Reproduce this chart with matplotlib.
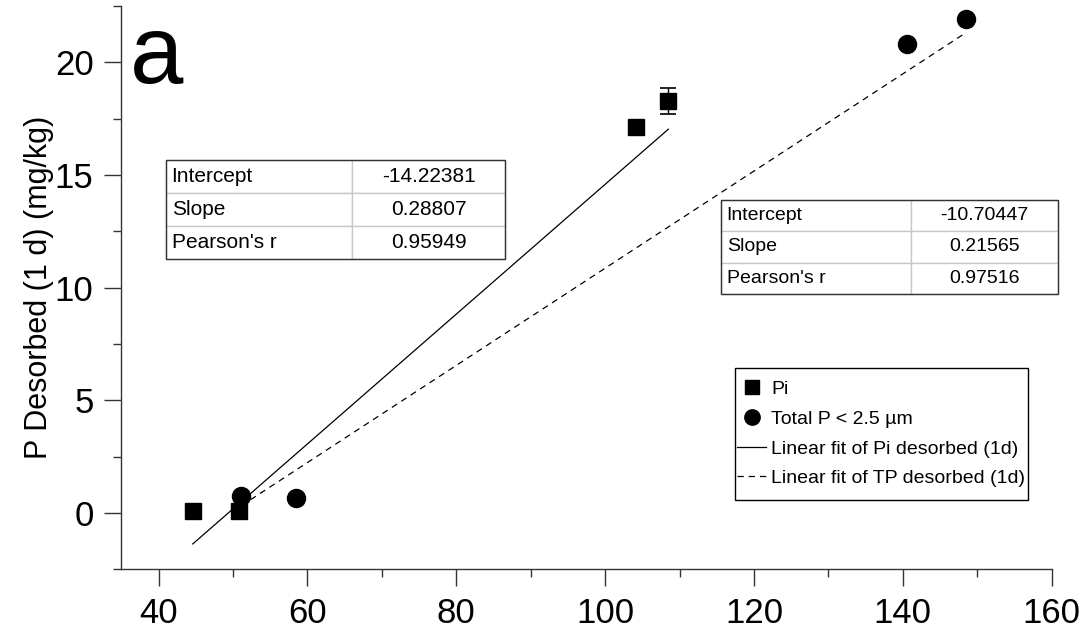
import numpy as np
import matplotlib
matplotlib.use("Agg")
import matplotlib.pyplot as plt
from matplotlib.patches import Rectangle
from matplotlib.ticker import MultipleLocator

plt.rcParams['font.family'] = ['Liberation Sans', 'DejaVu Sans']

# Pi desorbed after 1 d
pi_x = [44.6, 50.8, 104.1, 108.5]
pi_y = [0.07, 0.07, 17.11, 18.29]
pi_err = [0.0, 0.0, 0.0, 0.58]

# Total P < 2.5 um desorbed after 1 d
tp_x = [51.1, 58.5, 140.6, 148.55]
tp_y = [0.74, 0.68, 20.81, 21.9]

# linear fit results (intercept, slope, Pearson's r)
stat_names = ["Intercept", "Slope", "Pearson's r"]
pi_fit = [-14.22381, 0.28807, 0.95949]
tp_fit = [-10.70447, 0.21565, 0.97516]

fig = plt.figure(figsize=(10.87, 6.35), dpi=100)
ax = fig.add_axes([0.1116, 0.1035, 0.8559, 0.8871])

# data points
ax.plot(pi_x, pi_y, 's', color='black', ms=12, label='Pi', zorder=3)
ax.plot(tp_x, tp_y, 'o', color='black', ms=13, label='Total P < 2.5 µm', zorder=3)
err = np.array(pi_err)
m = err > 0
ax.errorbar(np.array(pi_x)[m], np.array(pi_y)[m], yerr=err[m], fmt='none',
            ecolor='black', elinewidth=1, capsize=6, capthick=1.2, zorder=2)

# fit lines over the range of each series
xf = np.array([min(pi_x), max(pi_x)])
ax.plot(xf, pi_fit[0] + pi_fit[1] * xf, '-', color='black', lw=0.9,
        label='Linear fit of Pi desorbed (1d)')
xf = np.array([min(tp_x), max(tp_x)])
ax.plot(xf, tp_fit[0] + tp_fit[1] * xf, '--', color='black', lw=0.9,
        dashes=(5, 4), label='Linear fit of TP desorbed (1d)')

ax.set_xlim(35, 160)
ax.set_ylim(-2.5, 22.5)
ax.xaxis.set_major_locator(MultipleLocator(20))
ax.xaxis.set_minor_locator(MultipleLocator(10))
ax.yaxis.set_major_locator(MultipleLocator(5))
ax.yaxis.set_minor_locator(MultipleLocator(2.5))
ax.tick_params(which='major', direction='out', length=12, width=1, color='#333333',
               labelsize=25)
ax.tick_params(which='minor', direction='out', length=6, width=1, color='#333333')
ax.tick_params(axis='x', pad=8)
ax.tick_params(axis='y', pad=8)
for s in ['top', 'right']:
    ax.spines[s].set_visible(False)
for s in ['left', 'bottom']:
    ax.spines[s].set_color('#333333')
    ax.spines[s].set_linewidth(1)

ax.set_ylabel('P Desorbed (1 d) (mg/kg)', fontsize=22)
ax.yaxis.set_label_coords(-0.072, 0.5)

ax.text(0.0094, 0.863, 'a', fontsize=69, transform=ax.transAxes, va='baseline')

# legend box with its own frame, entries centred inside it
leg_box = (0.6596, 0.123, 0.3149, 0.2344)
ax.legend(loc='center', bbox_to_anchor=leg_box, borderaxespad=0,
          fontsize=14, frameon=False, labelspacing=0.62, handlelength=1.45,
          handletextpad=0.3, borderpad=0.2, markerscale=0.85)
ax.add_patch(Rectangle(leg_box[:2], leg_box[2], leg_box[3], transform=ax.transAxes,
                       fill=False, edgecolor='black', lw=1, zorder=5, clip_on=False))


def fit_table(vals, bbox, col_frac, size):
    rows = [[n, f"{v:.5f}"] for n, v in zip(stat_names, vals)]
    t = ax.table(cellText=rows, bbox=bbox, colWidths=[col_frac, 1 - col_frac])
    t.auto_set_font_size(False)
    t.set_fontsize(size)
    for (r, c), cell in t.get_celld().items():
        cell.set_edgecolor('#c8c8c8')
        cell.set_linewidth(1)
        cell.PAD = 0.03
        cell.get_text().set_ha('left' if c == 0 else 'center')
    t.set_zorder(4)
    ax.add_patch(Rectangle((bbox[0], bbox[1]), bbox[2], bbox[3], transform=ax.transAxes,
                           fill=False, edgecolor='#333333', lw=1, zorder=5, clip_on=False))


fit_table(pi_fit, [0.048, 0.5508, 0.3644, 0.1758], 0.549, 15)
fit_table(tp_fit, [0.6445, 0.4887, 0.3622, 0.1669], 0.565, 14)

fig.savefig('out.png', dpi=100)
